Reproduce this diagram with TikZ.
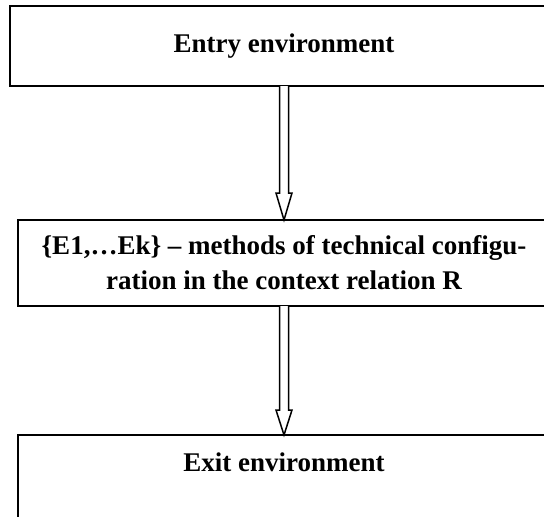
\documentclass[tikz,border=0pt]{standalone}
\usepackage{fontspec}
\setmainfont{Liberation Serif}
\usetikzlibrary{positioning}

\begin{document}
\begin{tikzpicture}[x=1pt, y=1pt,
  box/.style={draw, line width=2pt, outer sep=0pt, align=center, font=\fontsize{27}{35}\selectfont\bfseries},
  hollow/.style={line width=1.5pt, line join=miter, fill=white}]
\path[use as bounding box, clip] (0,0) rectangle (544,-517);

\node (entry) [box, minimum width=548pt, minimum height=80pt] at (284,-46) {Entry environment};

\node (methods) [box, below=134pt of entry, minimum width=532pt, minimum height=86pt] {\{E1,\ldots Ek\} -- methods of technical configu-\\ration in the context relation R};

\node (exit) [box, below=129pt of methods, minimum width=532pt, minimum height=100pt] {Exit environment\\\strut};

% double-line arrows with open heads
\draw [hollow] ([xshift=-4.5pt]entry.south) -- ([xshift=-4.5pt,yshift=27pt]methods.north) -- ++(-3.5,0) -- (methods.north) -- ++(8,27) -- ++(-3.5,0) -- ([xshift=4.5pt]entry.south);
\draw [hollow] ([xshift=-4.5pt]methods.south) -- ([xshift=-4.5pt,yshift=25pt]exit.north) -- ++(-3.5,0) -- (exit.north) -- ++(8,25) -- ++(-3.5,0) -- ([xshift=4.5pt]methods.south);
\end{tikzpicture}
\end{document}
